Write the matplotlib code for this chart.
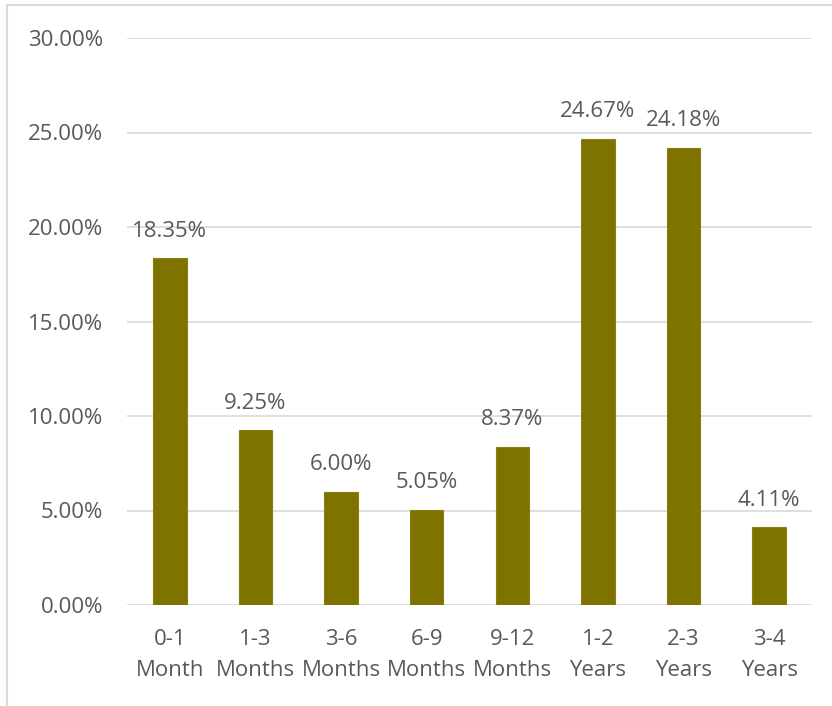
import matplotlib
matplotlib.use('Agg')
import matplotlib.pyplot as plt
from matplotlib.lines import Line2D

categories = ['0-1\nMonth', '1-3\nMonths', '3-6\nMonths', '6-9\nMonths',
              '9-12\nMonths', '1-2\nYears', '2-3\nYears', '3-4\nYears']
values     = [18.35, 9.25, 6.00, 5.05, 8.37, 24.67, 24.18, 4.11]
y_ticks    = [0, 5, 10, 15, 20, 25, 30]

plt.rcParams['font.family'] = ['Open Sans', 'DejaVu Sans']
text_color = '#595959'
bar_color  = '#7F7300'
fs = 16

fig = plt.figure(figsize=(8.32, 7.06), dpi=100)
fig.patch.set_facecolor('white')
ax = fig.add_axes([127/832, 1 - 605/706, (812 - 127)/832, (605 - 38)/706])

x = range(len(categories))
bars = ax.bar(x, values, width=0.39, color=bar_color, edgecolor='#8a7f10',
              linewidth=0.8, zorder=3)

for b, v in zip(bars, values):
    ax.annotate(f'{v:.2f}%', (b.get_x() + b.get_width() / 2, b.get_height()),
                xytext=(0, 12), textcoords='offset points', ha='center',
                va='bottom', fontsize=fs, color=text_color)

ax.set_xlim(-0.5, len(categories) - 0.5)
ax.set_ylim(0, 30)
ax.set_yticks(y_ticks)
ax.set_yticklabels([f'{t:.2f}%' for t in y_ticks])
ax.set_xticks(list(x))
ax.set_xticklabels(categories, linespacing=1.65)

ax.grid(axis='y', color='#d9d9d9', linewidth=1.2, zorder=0)
for s in ax.spines.values():
    s.set_visible(False)
ax.tick_params(axis='both', length=0, labelsize=fs, colors=text_color)
ax.tick_params(axis='y', pad=17)
ax.tick_params(axis='x', pad=17)

# outer chart border (left and top)
fig.add_artist(Line2D([7/832, 7/832], [0, 1 - 5/706], transform=fig.transFigure,
                      color='#d9d9d9', linewidth=1.5))
fig.add_artist(Line2D([7/832, 1], [1 - 5/706, 1 - 5/706], transform=fig.transFigure,
                      color='#d9d9d9', linewidth=1.5))

fig.savefig('out.png', dpi=100)
